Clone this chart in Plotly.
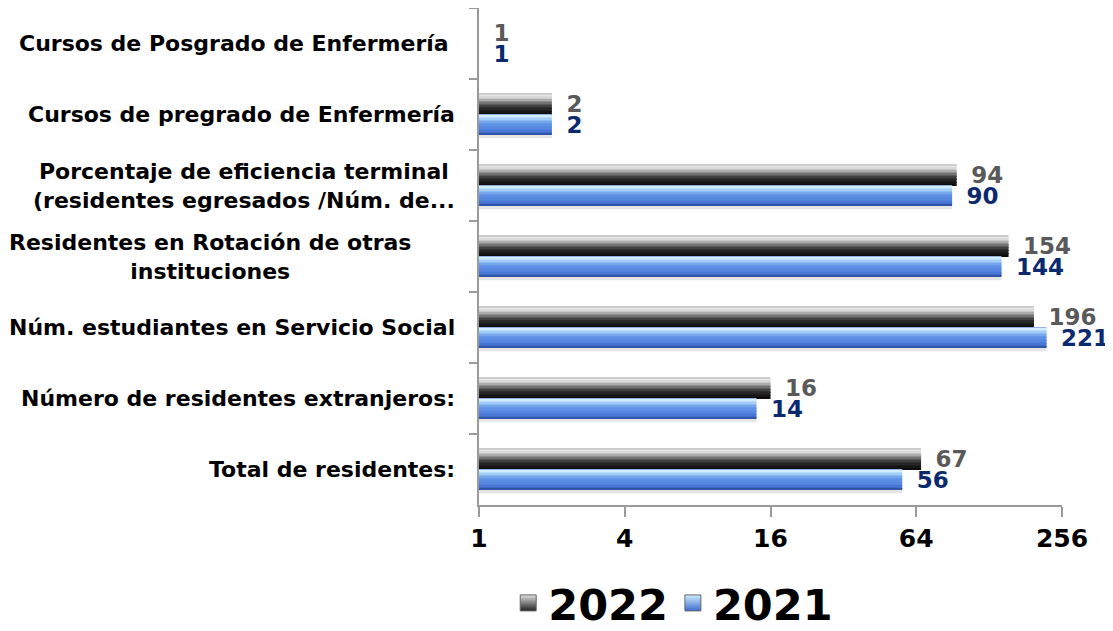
import plotly.graph_objects as go

categories = [
    "Cursos de Posgrado de Enfermería",
    "Cursos de pregrado de Enfermería",
    "Porcentaje de eficiencia terminal<br>(residentes egresados /Núm. de...",
    "Residentes en Rotación de otras<br>instituciones",
    "Núm. estudiantes en Servicio Social",
    "Número de residentes extranjeros:",
    "Total de residentes:",
]
values_2022 = [1, 2, 94, 154, 196, 16, 67]
values_2021 = [1, 2, 90, 144, 221, 14, 56]
tick_vals = [1, 4, 16, 64, 256]
tick_text = ["1", "4", "16", "64", "256"]

FONT = "DejaVu Sans"
W = 0.29  # bar thickness in category units
N_STRIPS = 14
LABEL_SHIFT = [-28, -22, -22, -66, -22, -22, -22]  # category label offsets (px)

# vertical gradient stops (fraction from top, rgb)
grad_2022 = [(0.0, (165, 165, 165)), (0.07, (242, 242, 242)), (0.25, (200, 200, 200)),
             (0.45, (120, 120, 120)), (0.65, (50, 50, 50)), (1.0, (8, 8, 8))]
grad_2021 = [(0.0, (70, 110, 190)), (0.07, (220, 244, 255)), (0.24, (165, 208, 250)),
             (0.45, (100, 152, 232)), (0.78, (78, 126, 220)), (0.92, (62, 104, 200)),
             (1.0, (38, 70, 140))]


def color_at(stops, t):
    for (t0, c0), (t1, c1) in zip(stops[:-1], stops[1:]):
        if t0 <= t <= t1:
            u = (t - t0) / (t1 - t0) if t1 > t0 else 0
            r, g, b = (round(a + (bb - a) * u) for a, bb in zip(c0, c1))
            return f"rgb({r},{g},{b})"
    r, g, b = stops[-1][1]
    return f"rgb({r},{g},{b})"


fig = go.Figure()


def add_series(vals, base_off, stops, name, leg_top, leg_bottom, text_color):
    for i in range(N_STRIPS):
        f0, f1 = i / N_STRIPS, (i + 1) / N_STRIPS
        fig.add_trace(go.Bar(
            y=categories, x=vals, orientation="h",
            offset=base_off + f0 * W, width=(f1 - f0) * W * 1.02,
            marker=dict(color=color_at(stops, (f0 + f1) / 2), line=dict(width=0)),
            name=name, legendgroup=name, showlegend=False, hoverinfo="skip",
        ))
    fig.add_trace(go.Bar(
        y=categories, x=vals, orientation="h",
        offset=base_off, width=W,
        marker=dict(color="rgba(0,0,0,0)", line=dict(width=0)),
        name=name, legendgroup=name, showlegend=False,
        text=[str(v) for v in vals], texttemplate="\u2002%{text}",
        textposition="outside", constraintext="none", cliponaxis=False,
        textfont=dict(family=FONT, size=23, color=text_color, weight=700),
    ))
    # legend entry
    fig.add_trace(go.Scatter(
        y=[None], x=[None], mode="markers", name=name, legendgroup=name,
        marker=dict(symbol="square", size=16, color=leg_top,
                    gradient=dict(type="vertical", color=leg_bottom),
                    line=dict(width=1, color="#666666")),
        showlegend=True, hoverinfo="skip",
    ))


# soft shadow under each pair
fig.add_trace(go.Bar(
    y=categories, x=values_2021, orientation="h", offset=W, width=0.045,
    marker=dict(color="rgba(0,0,0,0.10)", line=dict(width=0)),
    showlegend=False, hoverinfo="skip",
))
add_series(values_2022, -W, grad_2022, "2022", "#e0e0e0", "#202020", "#595959")
add_series(values_2021, 0.0, grad_2021, "2021", "#cfeeff", "#3d6bd0", "#0b2a6e")

for c, sh in zip(categories, LABEL_SHIFT):
    fig.add_annotation(
        x=0, xref="paper", xshift=sh, y=c, yref="y", text=c, showarrow=False,
        xanchor="right", yanchor="middle", align="center",
        font=dict(family=FONT, size=22, color="black", weight=700),
    )

fig.update_layout(
    width=1105, height=623,
    margin=dict(l=471, r=51, t=0, b=126, autoexpand=False),
    paper_bgcolor="white", plot_bgcolor="white",
    barmode="overlay",
    font=dict(family=FONT),
    legend=dict(orientation="h", xref="container", yref="container",
                x=0.602, xanchor="center", y=0.045, yanchor="middle",
                font=dict(family=FONT, size=43, color="black", weight=700),
                itemwidth=30, traceorder="normal"),
)
fig.update_xaxes(
    type="log", range=[0, 2.4082], tickvals=tick_vals, ticktext=tick_text,
    showline=True, linecolor="#9a9a9a", linewidth=1.5,
    ticks="outside", ticklen=10, tickcolor="#9a9a9a", tickwidth=1.5,
    showgrid=False, zeroline=False, automargin=False,
    tickfont=dict(family=FONT, size=25, color="black", weight=700),
)
fig.update_yaxes(
    type="category", range=[6.5, -0.5],
    showline=True, linecolor="#9a9a9a", linewidth=1.5,
    ticks="outside", ticklen=8, tickcolor="#9a9a9a", tickwidth=1.5,
    tickson="boundaries", showticklabels=False, showgrid=False, automargin=False,
)

fig.write_html("out.html")
